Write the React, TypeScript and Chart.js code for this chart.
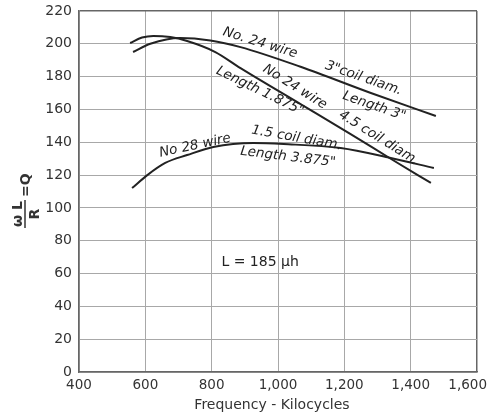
import React, { useEffect, useRef } from "react";
import { Chart, registerables } from "chart.js";

Chart.register(...registerables);

// ---- data ----
const coil3Freq = [563, 615, 705, 796, 887, 1068, 1280, 1476];
const coil3Q = [195, 200, 203.5, 202, 198, 186, 170, 156];

const coil45Freq = [554, 590, 624, 675, 726, 811, 887, 1068, 1219, 1346, 1461];
const coil45Q = [200.5, 203.8, 204.8, 204.1, 201.7, 195, 185.2, 163.3, 145, 129.2, 115.2];

const wire28Freq = [560, 606, 660, 726, 805, 926, 1017, 1189, 1340, 1470];
const wire28Q = [112.1, 120, 127.4, 132.2, 137.1, 139.5, 138.9, 136.5, 130.4, 124.3];

const xTickValues = [400, 600, 800, 1000, 1200, 1400, 1600];
const xTickLabels = ["400", "600", "800", "1,000", "1,200", "1,400", "1,600"];
const yTickLabels = ["0", "20", "40", "60", "80", "100", "120", "140", "160", "180", "200", "220"];

const noteTexts = [
  "No. 24 wire",
  "3\"coil diam.",
  "Length 3\"",
  "No 24 wire",
  "4.5 coil diam.",
  "Length 1.875\"",
  "No 28 wire",
  "1.5 coil diam.",
  "Length 3.875\"",
  "L = 185 \u03bch",
];
const noteX = [946, 1258, 1290, 1051, 1304, 946, 750, 1056, 1030, 946];
const noteY = [200.5, 179, 162, 173.7, 142.6, 171.2, 137.9, 142.6, 131, 67];
const noteAngle = [17, 19, 19, 32, 32, 26, -12, 10, 7, 0];

const xTitle = "Frequency - Kilocycles";

const INK = "#222";
const GRID = "#a8a8a8";
const FRAME = "#666";

const toPts = (xs: number[], ys: number[]) => xs.map((x, i) => ({ x, y: ys[i] }));

const annotPlugin = {
  id: "annot",
  afterDatasetsDraw(chart: any) {
    const { ctx, scales } = chart;
    const xs = scales.x;
    const ys = scales.y;
    ctx.save();
    ctx.fillStyle = INK;
    ctx.textAlign = "center";
    ctx.textBaseline = "middle";
    noteTexts.forEach((t, i) => {
      const px = xs.getPixelForValue(noteX[i]);
      const py = ys.getPixelForValue(noteY[i]);
      ctx.save();
      ctx.translate(px, py);
      ctx.rotate((noteAngle[i] * Math.PI) / 180);
      ctx.font = i === 9 ? "14px 'DejaVu Sans'" : "italic 13.5px 'DejaVu Sans'";
      ctx.fillText(t, 0, 0);
      ctx.restore();
    });
    // x title
    ctx.font = "14px 'DejaVu Sans'";
    ctx.fillStyle = "#333";
    ctx.textAlign = "center";
    ctx.textBaseline = "middle";
    ctx.fillText(xTitle, 272, 405);
    // y title: (omega L / R) = Q, rotated
    ctx.save();
    ctx.translate(25, 214);
    ctx.rotate(-Math.PI / 2);
    ctx.font = "bold 14px 'DejaVu Sans'";
    ctx.fillStyle = "#333";
    ctx.textAlign = "center";
    ctx.textBaseline = "alphabetic";
    ctx.fillText("\u03c9 L", 0, -3);
    ctx.textBaseline = "top";
    ctx.fillText("R", 0, 3);
    ctx.strokeStyle = "#333";
    ctx.lineWidth = 1.5;
    ctx.beginPath();
    ctx.moveTo(-14, 0);
    ctx.lineTo(14, 0);
    ctx.stroke();
    ctx.textAlign = "left";
    ctx.textBaseline = "middle";
    ctx.fillText("=Q", 17, 1);
    ctx.restore();
    ctx.restore();
  },
};

export default function App() {
  const ref = useRef<HTMLCanvasElement | null>(null);
  useEffect(() => {
    if (!ref.current) return;
    const lineStyle = {
      borderColor: INK,
      borderWidth: 2,
      pointRadius: 0,
      fill: false,
      cubicInterpolationMode: "monotone" as const,
    };
    const chart: any = new Chart(ref.current, {
      type: "line",
      data: {
        datasets: [
          { label: "No. 24 wire, 3\" coil diam., length 3\"", data: toPts(coil3Freq, coil3Q), ...lineStyle },
          { label: "No. 24 wire, 4.5\" coil diam., length 1.875\"", data: toPts(coil45Freq, coil45Q), ...lineStyle },
          { label: "No. 28 wire, 1.5\" coil diam., length 3.875\"", data: toPts(wire28Freq, wire28Q), ...lineStyle },
        ],
      },
      options: {
        animation: false,
        responsive: false,
        maintainAspectRatio: false,
        layout: { padding: { top: 11, right: 11, left: 0, bottom: 0 } },
        plugins: { legend: { display: false }, tooltip: { enabled: false } },
        scales: {
          x: {
            type: "linear",
            min: 400,
            max: 1600,
            afterBuildTicks: (s: any) => {
              s.ticks = xTickValues.map((v) => ({ value: v }));
            },
            afterFit: (s: any) => {
              s.height = 41;
              s.paddingLeft = 0;
              s.paddingRight = 0;
            },
            ticks: {
              callback: (v: any) => {
                const i = xTickValues.indexOf(Number(v));
                return i >= 0 ? xTickLabels[i] : "";
              },
              color: "#333",
              font: { family: "'DejaVu Sans'", size: 13.5 },
              padding: 5,
              maxRotation: 0,
              autoSkip: false,
            },
            grid: {
              color: (c: any) => (c.tick && c.tick.value === 1600 ? FRAME : GRID),
              lineWidth: (c: any) => (c.tick && c.tick.value === 1600 ? 1.5 : 1),
              drawTicks: false,
            },
            border: { display: true, color: FRAME, width: 1.5 },
          },
          y: {
            type: "linear",
            min: 0,
            max: 220,
            ticks: {
              stepSize: 20,
              callback: (v: any) => {
                const i = Math.round(Number(v) / 20);
                return yTickLabels[i] ?? "";
              },
              color: "#333",
              font: { family: "'DejaVu Sans'", size: 14 },
              padding: 7,
              autoSkip: false,
            },
            afterFit: (s: any) => {
              s.width = 79;
              s.paddingTop = 0;
              s.paddingBottom = 0;
            },
            grid: {
              color: (c: any) => (c.tick && c.tick.value === 220 ? FRAME : GRID),
              lineWidth: (c: any) => (c.tick && c.tick.value === 220 ? 1.5 : 1),
              drawTicks: false,
            },
            border: { display: true, color: FRAME, width: 1.5 },
          },
        },
      },
      plugins: [annotPlugin],
    });
    // keep the rightmost x label inside the canvas (right-aligned at the edge)
    const xs = chart.scales.x;
    if (xs && typeof xs.getLabelItems === "function") {
      const origGet = xs.getLabelItems.bind(xs);
      xs.getLabelItems = (ca: any) => {
        const items = origGet(ca);
        const last = items && items[items.length - 1];
        if (last && last.options && !last.__fixed) {
          last.__fixed = true;
          last.options.textAlign = "right";
          last.options.translation = [487, last.options.translation[1]];
        }
        return items;
      };
      chart.draw();
    }
    return () => chart.destroy();
  }, []);
  return (
    <div style={{ position: "fixed", left: 0, top: 0, width: 488, height: 413, background: "#fff" }}>
      <canvas ref={ref} width={488} height={413} style={{ width: 488, height: 413 }} />
    </div>
  );
}
